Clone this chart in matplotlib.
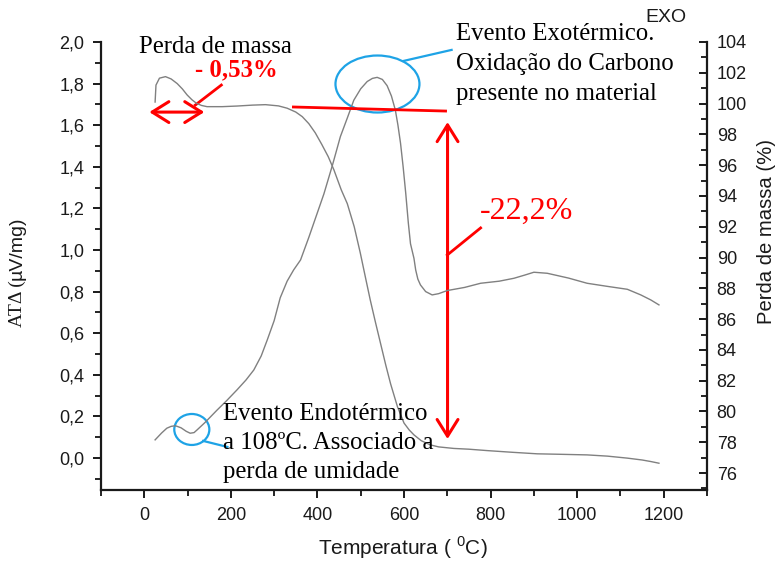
import matplotlib
matplotlib.use("Agg")
import matplotlib.pyplot as plt
from matplotlib.ticker import MultipleLocator, FuncFormatter
from matplotlib.patches import Ellipse, FancyArrowPatch

# ---- data -------------------------------------------------------------
# mass curve (TG), right axis, %
tg_temp = [25, 27, 35, 49, 62, 76, 88, 99, 110, 120, 132, 145, 180, 214, 250,
           280, 310, 330, 350, 365, 380, 395, 410, 425, 438, 455, 469, 485,
           499, 511, 522, 534, 546, 558, 569, 585, 600, 612, 623, 640, 661,
           680, 715, 750, 792, 850, 908, 960, 1023, 1070, 1116, 1150, 1170,
           1189]
tg_mass = [100.1, 101.2, 101.65, 101.75, 101.6, 101.3, 100.95, 100.56, 100.25,
           100.03, 99.88, 99.8, 99.8, 99.84, 99.9, 99.93, 99.85, 99.7, 99.45,
           99.15, 98.7, 98.1, 97.35, 96.55, 95.7, 94.4, 93.5, 92.0, 90.3, 88.7,
           87.25, 85.8, 84.4, 83.0, 81.8, 80.3, 79.25, 78.8, 78.48, 78.1,
           77.83, 77.7, 77.6, 77.55, 77.46, 77.35, 77.25, 77.22, 77.18, 77.1,
           76.97, 76.85, 76.75, 76.64]

# differential thermal signal (DTA), left axis, uV/mg
dta_temp = [25, 40, 52, 62, 72, 85, 97, 106, 115, 122, 140, 168, 190, 214,
            235, 253, 270, 284, 300, 314, 330, 345, 361, 380, 400, 415, 435,
            453, 470, 484, 500, 515, 527, 538, 550, 561, 571, 580, 586, 592,
            598, 604, 610, 615, 623, 627, 632, 638, 650, 665, 680, 700, 740,
            777, 820, 854, 880, 900, 931, 980, 1023, 1070, 1116, 1147, 1170,
            1189]
dta_signal = [0.087, 0.12, 0.143, 0.152, 0.155, 0.145, 0.128, 0.119, 0.122,
              0.135, 0.17, 0.23, 0.275, 0.327, 0.375, 0.423, 0.49, 0.567,
              0.66, 0.77, 0.85, 0.904, 0.952, 1.06, 1.18, 1.27, 1.41, 1.545,
              1.64, 1.72, 1.775, 1.81, 1.825, 1.83, 1.82, 1.79, 1.74, 1.673,
              1.6, 1.513, 1.4, 1.273, 1.13, 1.03, 0.96, 0.904, 0.86, 0.832,
              0.8, 0.784, 0.79, 0.805, 0.82, 0.84, 0.85, 0.864, 0.88, 0.893,
              0.888, 0.865, 0.84, 0.825, 0.811, 0.784, 0.76, 0.736]

x_ticks = [0, 200, 400, 600, 800, 1000, 1200]
left_ticks = [0.0, 0.2, 0.4, 0.6, 0.8, 1.0, 1.2, 1.4, 1.6, 1.8, 2.0]
right_ticks = list(range(76, 105, 2))

# ---- figure -----------------------------------------------------------
W, H = 778, 561
fig = plt.figure(figsize=(W / 100, H / 100), dpi=100)
fig.patch.set_facecolor("white")

def fx(px):
    return px / W

def fy(py):
    return 1 - py / H

SANS = "Liberation Sans"
SERIF = "Liberation Serif"
INK = "#1a1a1a"
CURVE = "#808080"
RED = "#ff0000"
BLUE = "#1ea3e6"
NOTE = 17.8

ax = fig.add_axes([fx(101), fy(490), 606 / W, 448 / H])
ax2 = ax.twinx()

ax.plot(dta_temp, dta_signal, color=CURVE, lw=1.0)
ax2.plot(tg_temp, tg_mass, color=CURVE, lw=1.0)

ax.set_xlim(-100, 1300)
ax.set_ylim(-0.154, 2.0)
ax2.set_ylim(74.9, 104)

for s in ("top", "right"):
    ax.spines[s].set_visible(False)
for s in ("top", "left", "bottom"):
    ax2.spines[s].set_visible(False)
for a in (ax, ax2):
    for s in a.spines.values():
        s.set_linewidth(1.6)
        s.set_color(INK)

ax.set_xticks(x_ticks)
ax.xaxis.set_minor_locator(MultipleLocator(100))
ax.set_yticks(left_ticks)
ax.yaxis.set_minor_locator(MultipleLocator(0.1))
ax.yaxis.set_major_formatter(FuncFormatter(lambda v, p: f"{v:.1f}".replace(".", ",")))
ax2.set_yticks(right_ticks)
ax2.yaxis.set_minor_locator(MultipleLocator(1))

ax.tick_params(axis="x", which="major", direction="out", length=6, width=1.4,
               pad=6, labelsize=13, colors=INK)
ax.tick_params(axis="x", which="minor", direction="out", length=4, width=1.2)
ax.tick_params(axis="y", which="major", direction="out", length=6, width=1.4,
               pad=6, labelsize=13, colors=INK)
ax.tick_params(axis="y", which="minor", direction="out", length=4, width=1.2)
ax2.tick_params(axis="y", which="major", direction="in", length=6, width=1.4,
                pad=7, labelsize=13, colors=INK)
ax2.tick_params(axis="y", which="minor", direction="in", length=4, width=1.2)
for lab in ax.get_xticklabels() + ax.get_yticklabels() + ax2.get_yticklabels():
    lab.set_fontfamily(SANS)

# axis titles
fig.text(fx(403), fy(555), "Temperatura ( $^{\\mathregular{0}}$C)", ha="center",
         va="baseline", fontsize=15, family=SANS, color=INK)
fig.text(fx(766), fy(232), "Perda de massa (%)", rotation=90, ha="center",
         va="center", fontsize=14.6, family=SANS, color=INK)
t1 = fig.text(fx(17), fy(327), "AT\u0394 (", rotation=90, ha="center",
              va="bottom", fontsize=14, family=SERIF, color=INK)
ax.annotate("\u00b5V/mg)", xy=(0.5, 1.0), xycoords=t1, rotation=90,
            ha="center", va="bottom", fontsize=14, family=SANS, color=INK,
            annotation_clip=False)
fig.text(fx(666), fy(22), "EXO", ha="center", va="baseline", fontsize=14,
         family=SANS, color=INK)

# ---- annotations ------------------------------------------------------
def red_arrow(p0, p1):
    arr = FancyArrowPatch(p0, p1, arrowstyle="<->,head_length=0.8,head_width=0.5",
                          mutation_scale=15, color=RED, lw=2.2,
                          shrinkA=0, shrinkB=0, clip_on=False)
    ax.add_patch(arr)

# first mass loss step
red_arrow((11.6, 1.663), (138.7, 1.663))
ax.plot([178, 118], [1.793, 1.697], color=RED, lw=2.0, clip_on=False)
fig.text(fx(139), fy(53), "Perda de massa", ha="left", va="baseline",
         fontsize=NOTE, family=SERIF, color="black")
fig.text(fx(195), fy(76), "- 0,53%", ha="left", va="baseline",
         fontsize=NOTE, family=SERIF, weight="bold", color=RED)

# main mass loss step
ax.plot([344.5, 696], [1.6875, 1.668], color=RED, lw=2.0, clip_on=False)
red_arrow((700.6, 1.615), (700.6, 0.091))
ax.plot([700, 777], [0.976, 1.106], color=RED, lw=2.0, clip_on=False)
fig.text(fx(480), fy(219), "-22,2%", ha="left", va="baseline",
         fontsize=23, family=SERIF, color=RED)

# exothermic event
ax.add_patch(Ellipse((538.7, 1.798), 194, 0.274, fill=False, ec=BLUE, lw=1.6,
                     clip_on=False))
ax.plot([599, 710], [1.909, 1.962], color=BLUE, lw=1.6, clip_on=False)
for i, line in enumerate(["Evento Exotérmico.", "Oxidação do Carbono",
                          "presente no material"]):
    fig.text(fx(456), fy(40 + 30 * i), line, ha="left", va="baseline",
             fontsize=NOTE, family=SERIF, color="black")

# endothermic event
ax.add_patch(Ellipse((109.8, 0.137), 81, 0.149, fill=False, ec=BLUE, lw=1.6,
                     clip_on=False))
ax.plot([136, 192], [0.082, 0.053], color=BLUE, lw=1.6, clip_on=False)
for i, line in enumerate(["Evento Endotérmico", "a 108ºC. Associado a",
                          "perda de umidade"]):
    fig.text(fx(223), fy(420 + 29 * i), line, ha="left", va="baseline",
             fontsize=NOTE, family=SERIF, color="black")

fig.savefig("out.png", dpi=100, facecolor="white")
